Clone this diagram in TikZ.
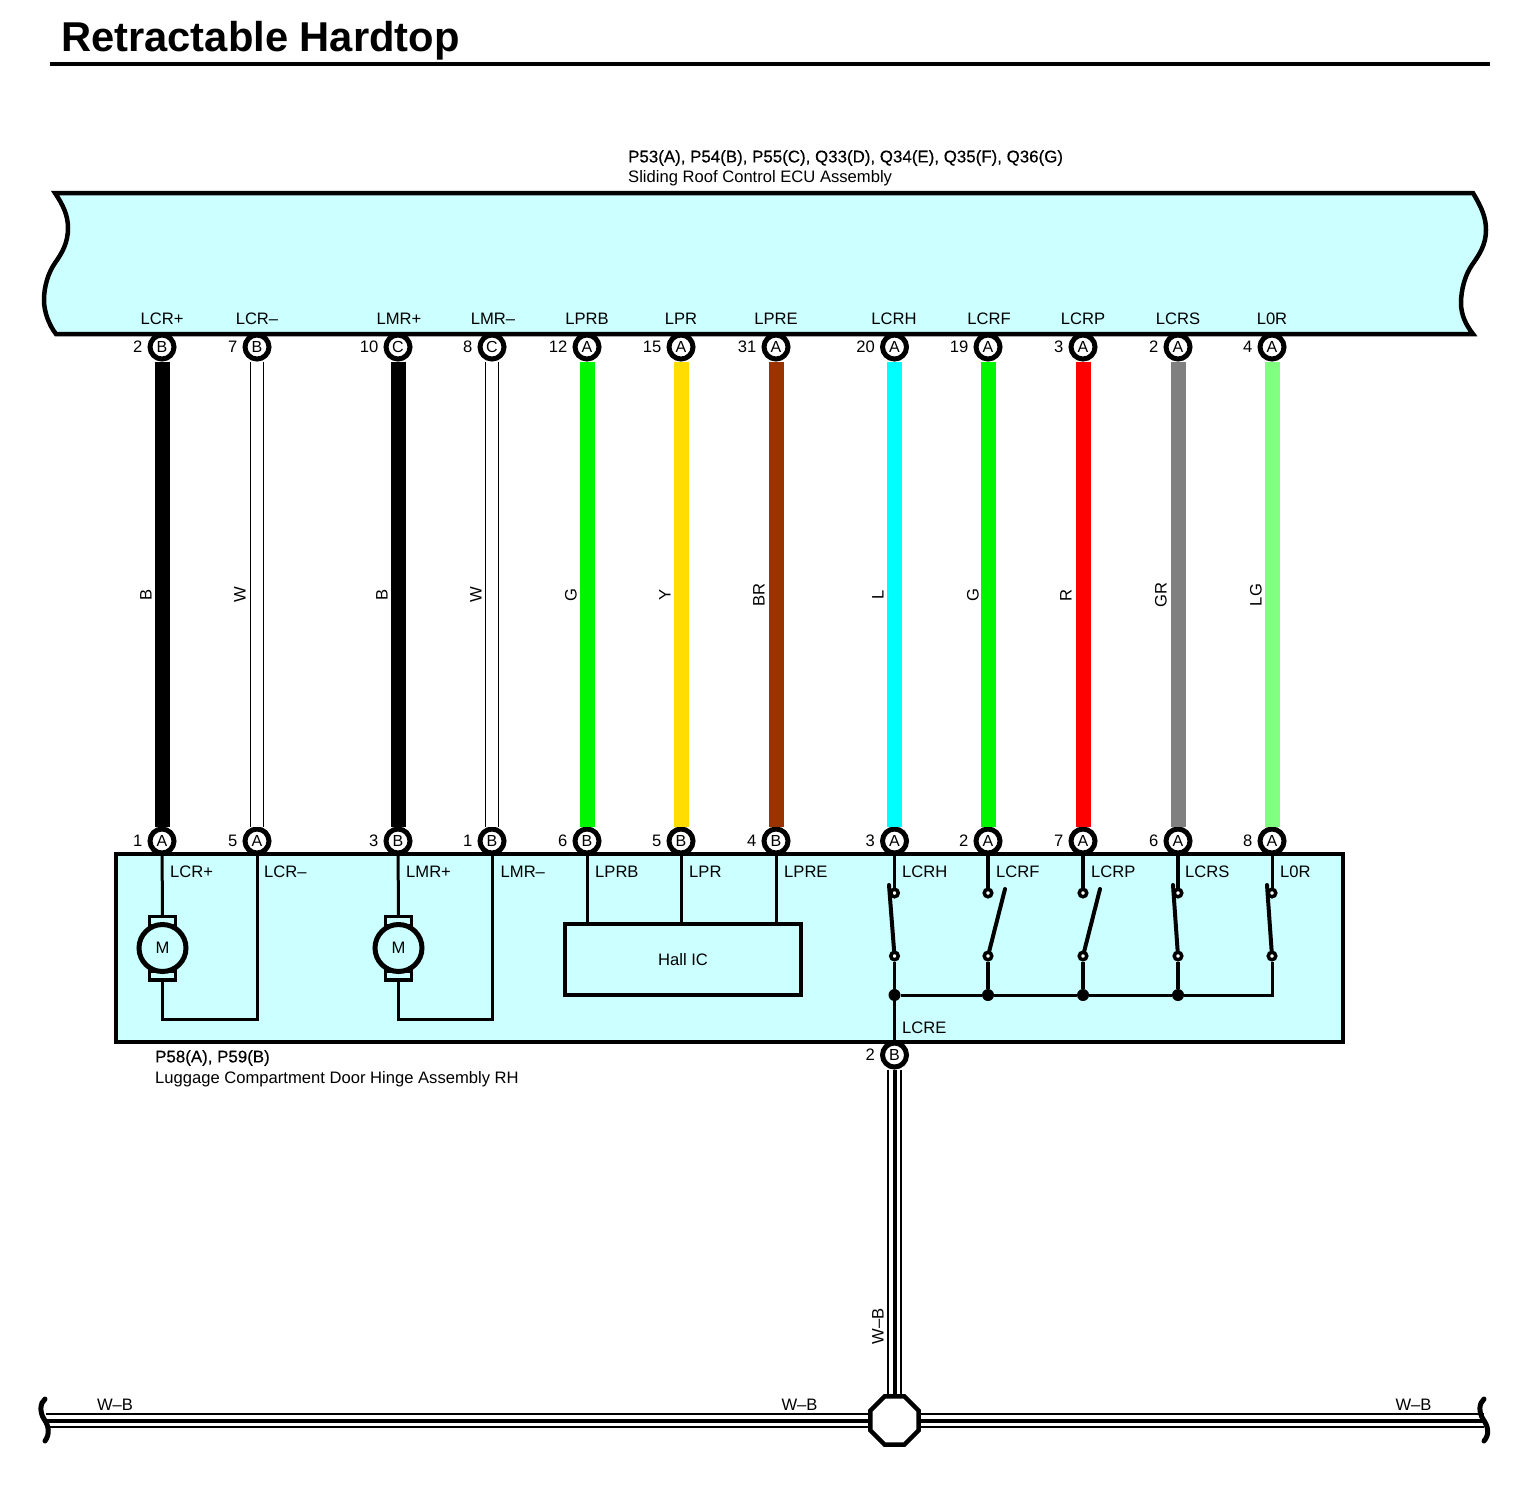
\documentclass[tikz,border=0pt]{standalone}
\usepackage{fontspec}
\setmainfont{Liberation Sans}
\newfontfamily\darkfont[FakeBold=0.4]{Liberation Sans}
\usetikzlibrary{positioning,shapes.geometric}
\definecolor{boxcyan}{HTML}{CCFFFF}
\definecolor{wiregreen}{HTML}{00F500}
\definecolor{wireyellow}{HTML}{FFDD00}
\definecolor{wirebrown}{HTML}{993300}
\definecolor{wirecyan}{HTML}{00FFFF}
\definecolor{wirered}{HTML}{FF0000}
\definecolor{wiregray}{HTML}{808080}
\definecolor{wirelime}{HTML}{80FF80}
\tikzset{
	small/.style={font=\fontsize{16.6}{18}\selectfont, inner sep=0pt},
	pinnode/.style={circle, draw, fill=white, line width=5, minimum size=24, inner sep=0pt, font=\fontsize{16}{18}\selectfont},
	every label/.style={font=\fontsize{16.6}{18}\selectfont, inner sep=0pt, xshift=-5pt},
	wire/.style={line width=15},
	whitewire/.style={draw=black, line width=1, double=white, double distance=11.5},
	wbwire/.style={draw=black, line width=14.5, postaction={draw=white, line width=11.5}, postaction={draw=black, line width=4}},
	inner/.style={line width=3},
	innerthick/.style={line width=4.2},
	blade/.style={line width=4, line cap=round},
	term/.style={circle, draw, fill=white, line width=3.5, minimum size=7.5, inner sep=0pt},
	dotnode/.style={circle, fill=black, minimum size=12, inner sep=0pt},
	brush/.style={rectangle, draw, fill=boxcyan, line width=3.5, minimum width=26, minimum height=9, inner sep=0pt},
	motor/.style={circle, draw, fill=boxcyan, line width=5, minimum size=47, inner sep=0pt, font=\fontsize{16.6}{18}\selectfont},
}
\begin{document}
\begin{tikzpicture}[x=1pt,y=-1pt]
	\useasboundingbox (0,0) rectangle (1516,1492);

	% title
	\node[anchor=west, inner sep=0pt, font=\fontsize{41.7}{44}\selectfont\bfseries] (title) at (61,41) {Retractable Hardtop};
	\draw [line width=4] (50,64) -- (1490,64);

	% ecu
	\node[small, anchor=west, font=\fontsize{16.9}{18}\selectfont\darkfont] (ecucode) at (628,158) {P53(A), P54(B), P55(C), Q33(D), Q34(E), Q35(F), Q36(G)};
	\node[small, anchor=west] (ecuname) at (628,178) {Sliding Roof Control ECU Assembly};
	\draw [fill=boxcyan, line width=4.5, line join=miter] (55,193) -- (1473,193)
		.. controls (1482,208) and (1486,218) .. (1486,230)
		.. controls (1486,245) and (1479,255) .. (1472,265)
		.. controls (1465,275) and (1461,290) .. (1461,303)
		.. controls (1461,315) and (1466,325) .. (1473,334)
		-- (56,334)
		.. controls (49,325) and (44,312) .. (44,300)
		.. controls (44,287) and (48,273) .. (55,263)
		.. controls (62,253) and (68,243) .. (68,228)
		.. controls (68,215) and (63,205) .. (55,193) -- cycle;

	% lower assembly
	\draw [fill=boxcyan, line width=4.5] (116,854) rectangle (1343,1042);
	\node[small, anchor=west, font=\fontsize{16.9}{18}\selectfont\darkfont] (hingecode) at (155,1058) {P58(A), P59(B)};
	\node[small, anchor=west] (hingename) at (155,1079) {Luggage Compartment Door Hinge Assembly RH};

	% pins on ecu
	\node[pinnode, label={left:2}] (tLCRp) at (162,347) {B};
	\node[pinnode, label={left:7}] (tLCRm) at (257,347) {B};
	\node[pinnode, label={left:10}] (tLMRp) at (398,347) {C};
	\node[pinnode, label={left:8}] (tLMRm) at (492,347) {C};
	\node[pinnode, label={left:12}] (tLPRB) at (587,347) {A};
	\node[pinnode, label={left:15}] (tLPR) at (681,347) {A};
	\node[pinnode, label={left:31}] (tLPRE) at (776,347) {A};
	\node[pinnode, label={left:20}] (tLCRH) at (894.5,347) {A};
	\node[pinnode, label={left:19}] (tLCRF) at (988,347) {A};
	\node[pinnode, label={left:3}] (tLCRP) at (1083,347) {A};
	\node[pinnode, label={left:2}] (tLCRS) at (1178,347) {A};
	\node[pinnode, label={left:4}] (tL0R) at (1272,347) {A};

	% pins on hinge
	\node[pinnode, label={left:1}] (bLCRp) at (162,841) {A};
	\node[pinnode, label={left:5}] (bLCRm) at (257,841) {A};
	\node[pinnode, label={left:3}] (bLMRp) at (398,841) {B};
	\node[pinnode, label={left:1}] (bLMRm) at (492,841) {B};
	\node[pinnode, label={left:6}] (bLPRB) at (587,841) {B};
	\node[pinnode, label={left:5}] (bLPR) at (681,841) {B};
	\node[pinnode, label={left:4}] (bLPRE) at (776,841) {B};
	\node[pinnode, label={left:3}] (bLCRH) at (894.5,841) {A};
	\node[pinnode, label={left:2}] (bLCRF) at (988,841) {A};
	\node[pinnode, label={left:7}] (bLCRP) at (1083,841) {A};
	\node[pinnode, label={left:6}] (bLCRS) at (1178,841) {A};
	\node[pinnode, label={left:8}] (bL0R) at (1272,841) {A};
	\node[pinnode, label={left:2}] (bLCRE) at (894.5,1055) {B};

	% wires
	\draw [wire, black] (tLCRp) -- (bLCRp);
	\draw [whitewire] (tLCRm) -- (bLCRm);
	\draw [wire, black] (tLMRp) -- (bLMRp);
	\draw [whitewire] (tLMRm) -- (bLMRm);
	\draw [wire, wiregreen] (tLPRB) -- (bLPRB);
	\draw [wire, wireyellow] (tLPR) -- (bLPR);
	\draw [wire, wirebrown] (tLPRE) -- (bLPRE);
	\draw [wire, wirecyan] (tLCRH) -- (bLCRH);
	\draw [wire, wiregreen] (tLCRF) -- (bLCRF);
	\draw [wire, wirered] (tLCRP) -- (bLCRP);
	\draw [wire, wiregray] (tLCRS) -- (bLCRS);
	\draw [wire, wirelime] (tL0R) -- (bL0R);

	% wire labels
	\node[small, rotate=90] (wireA) at (146,595) {B};
	\node[small, rotate=90] (wireB) at (240,595) {W};
	\node[small, rotate=90] (wireC) at (382,595) {B};
	\node[small, rotate=90] (wireD) at (476,595) {W};
	\node[small, rotate=90] (wireE) at (571,595) {G};
	\node[small, rotate=90] (wireF) at (665,595) {Y};
	\node[small, rotate=90] (wireG) at (759,595) {BR};
	\node[small, rotate=90] (wireH) at (878,595) {L};
	\node[small, rotate=90] (wireI) at (973,595) {G};
	\node[small, rotate=90] (wireJ) at (1066,595) {R};
	\node[small, rotate=90] (wireK) at (1161,595) {GR};
	\node[small, rotate=90] (wireL) at (1256,595) {LG};

	% names in ecu
	\node[small] (eLCRp) at (162,318.5) {LCR+};
	\node[small] (eLCRm) at (257,318.5) {LCR--};
	\node[small] (eLMRp) at (399,318.5) {LMR+};
	\node[small] (eLMRm) at (493,318.5) {LMR--};
	\node[small] (eLPRB) at (587,318.5) {LPRB};
	\node[small] (eLPR) at (681,318.5) {LPR};
	\node[small] (eLPRE) at (776,318.5) {LPRE};
	\node[small] (eLCRH) at (894,318.5) {LCRH};
	\node[small] (eLCRF) at (989,318.5) {LCRF};
	\node[small] (eLCRP) at (1083,318.5) {LCRP};
	\node[small] (eLCRS) at (1178,318.5) {LCRS};
	\node[small] (eL0R) at (1272,318.5) {L0R};

	% names in hinge
	\node[small, anchor=west] (hLCRp) at (170,871.5) {LCR+};
	\node[small, anchor=west] (hLCRm) at (264,871.5) {LCR--};
	\node[small, anchor=west] (hLMRp) at (406,871.5) {LMR+};
	\node[small, anchor=west] (hLMRm) at (500.5,871.5) {LMR--};
	\node[small, anchor=west] (hLPRB) at (595,871.5) {LPRB};
	\node[small, anchor=west] (hLPR) at (689,871.5) {LPR};
	\node[small, anchor=west] (hLPRE) at (784,871.5) {LPRE};
	\node[small, anchor=west] (hLCRH) at (902,871.5) {LCRH};
	\node[small, anchor=west] (hLCRF) at (996,871.5) {LCRF};
	\node[small, anchor=west] (hLCRP) at (1091,871.5) {LCRP};
	\node[small, anchor=west] (hLCRS) at (1185,871.5) {LCRS};
	\node[small, anchor=west] (hL0R) at (1280,871.5) {L0R};
	\node[small, anchor=west] (hLCRE) at (902,1027.5) {LCRE};

	% motors
	\node[brush] (brushAt) at (162.5,921) {};
	\node[brush] (brushAb) at (162.5,975.5) {};
	\node[motor] (motorA) at (162.5,948) {M};
	\node[brush] (brushBt) at (398.5,921) {};
	\node[brush] (brushBb) at (398.5,975.5) {};
	\node[motor] (motorB) at (398.5,948) {M};
	\coordinate (cornerA) at (257,1019);
	\coordinate (cornerB) at (492,1019);
	\draw [inner] (bLCRp) -- (brushAt);
	\draw [inner] (brushAb) |- (cornerA) -- (bLCRm);
	\draw [inner] (bLMRp) -- (brushBt);
	\draw [inner] (brushBb) |- (cornerB) -- (bLMRm);

	% hall ic
	\node[rectangle, draw, line width=4, minimum width=236, minimum height=71, inner sep=0pt, font=\fontsize{16.6}{18}\selectfont] (hall) at (683,959.5) {Hall IC};
	\draw [inner] (bLPRB) -- (bLPRB |- hall.north);
	\draw [inner] (bLPR) -- (bLPR |- hall.north);
	\draw [inner] (bLPRE) -- (bLPRE |- hall.north);

	% switches
	\node[term] (sHt) at (894.5,893) {};
	\node[term] (sHb) at (894.5,956) {};
	\node[term] (sFt) at (988,893) {};
	\node[term] (sFb) at (988,956) {};
	\node[term] (sPt) at (1083,893) {};
	\node[term] (sPb) at (1083,956) {};
	\node[term] (sSt) at (1178,893) {};
	\node[term] (sSb) at (1178,956) {};
	\node[term] (sRt) at (1272,893) {};
	\node[term] (sRb) at (1272,956) {};
	\node[dotnode] (dotH) at (894.5,995) {};
	\node[dotnode] (dotF) at (988,995) {};
	\node[dotnode] (dotP) at (1083,995) {};
	\node[dotnode] (dotS) at (1178,995) {};
	\coordinate (bladeH) at (889,885);
	\coordinate (bladeF) at (1005,889);
	\coordinate (bladeP) at (1100,889);
	\coordinate (bladeS) at (1173,885);
	\coordinate (bladeR) at (1267,885);
	\draw [blade] (bladeH) -- (sHb);
	\draw [blade] (bladeF) -- (sFb);
	\draw [blade] (bladeP) -- (sPb);
	\draw [blade] (bladeS) -- (sSb);
	\draw [blade] (bladeR) -- (sRb);
	\draw [inner] (bLCRH) -- (sHt);
	\draw [innerthick] (bLCRF) -- (sFt);
	\draw [innerthick] (bLCRP) -- (sPt);
	\draw [innerthick] (bLCRS) -- (sSt);
	\draw [inner] (bL0R) -- (sRt);
	\draw [inner] (sHb) -- (dotH);
	\draw [innerthick] (sFb) -- (dotF);
	\draw [innerthick] (sPb) -- (dotP);
	\draw [innerthick] (sSb) -- (dotS);
	\draw [inner] (dotH) -- (dotF) -- (dotP) -- (dotS) -| (sRb);
	\draw [inner] (dotH) -- (bLCRE);

	% ground
	\node[regular polygon, regular polygon sides=8, draw, fill=white, line width=4.5, minimum size=52, inner sep=0pt] (ground) at (894.5,1420.5) {};
	\coordinate (leftend) at (46,1420.5);
	\coordinate (rightend) at (1484,1420.5);
	\draw [wbwire] (bLCRE) -- (ground);
	\draw [wbwire] (leftend) -- (ground);
	\draw [wbwire] (ground) -- (rightend);
	\draw [line width=5, line cap=round] (45,1399) .. controls (40,1403) and (39.5,1412) .. (44,1419) .. controls (49,1426) and (50,1434) .. (45,1441);
	\draw [line width=5, line cap=round] (1484,1399) .. controls (1479,1403) and (1478.5,1412) .. (1483,1419) .. controls (1488,1426) and (1490,1434) .. (1484,1441);
	\node[small] (wbA) at (115,1404.5) {W--B};
	\node[small] (wbB) at (799.5,1404.5) {W--B};
	\node[small] (wbC) at (1413.5,1404.5) {W--B};
	\node[small, rotate=90] (wbD) at (878,1326) {W--B};

\end{tikzpicture}
\end{document}
